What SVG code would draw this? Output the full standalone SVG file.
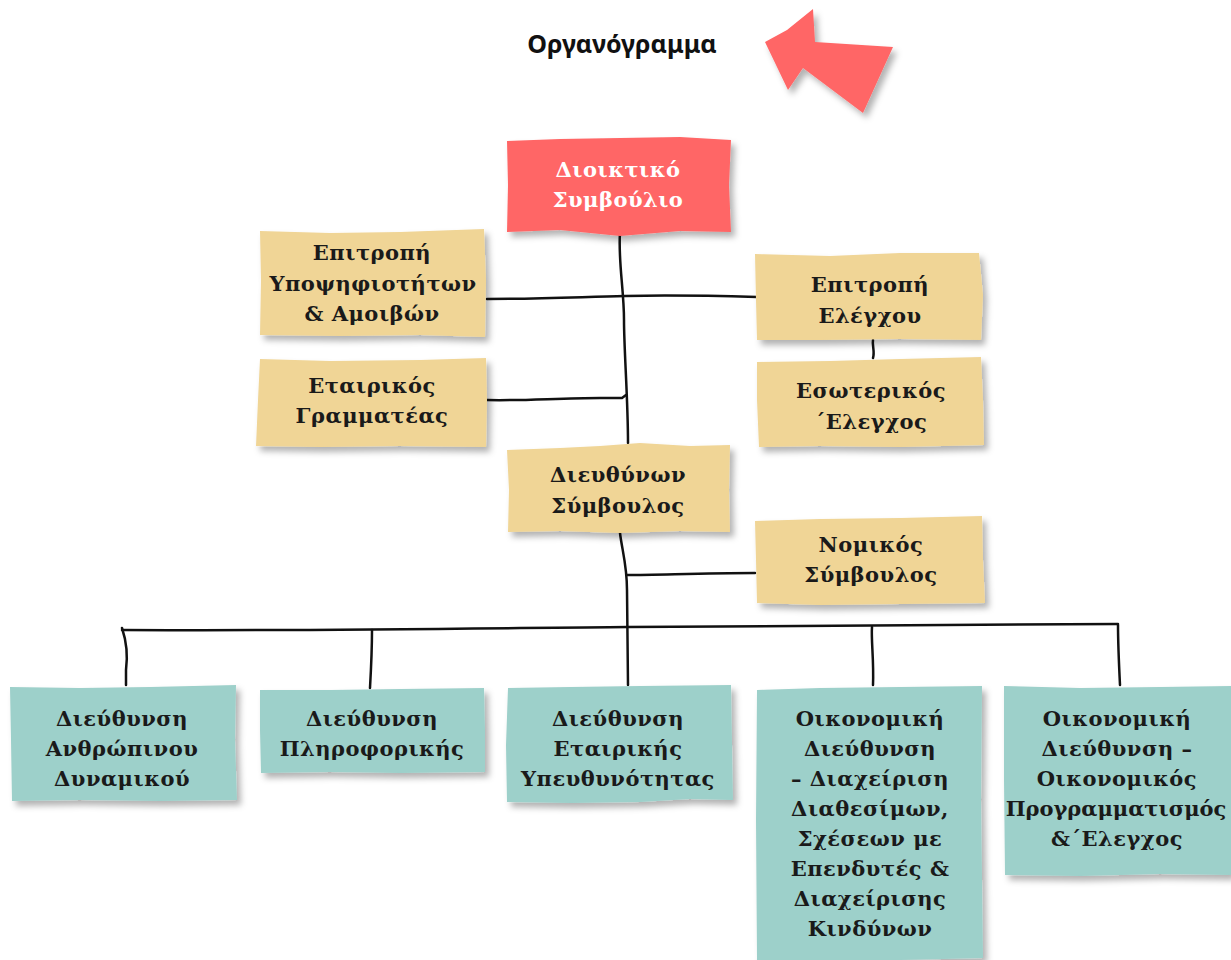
<svg xmlns="http://www.w3.org/2000/svg" width="1231" height="960" viewBox="0 0 1231 960">
  <defs>
    <filter id="shadow" x="-10%" y="-10%" width="125%" height="130%">
      <feDropShadow dx="4" dy="5" stdDeviation="3" flood-color="#000" flood-opacity="0.3"/>
    </filter>
  </defs>
  <style>
    .red { fill: #FF6666; filter: url(#shadow); }
    .yellow { fill: #F0D596; filter: url(#shadow); }
    .teal { fill: #9DD0CA; filter: url(#shadow); }
    .label { font-family: "DejaVu Serif", "Liberation Serif", serif; font-weight: bold; font-size: 21px; letter-spacing: 0.5px; fill: #1a1a1a; text-anchor: middle; }
    .label.light { fill: #ffffff; }
    .label.tight { letter-spacing: 0; }
    .title { font-family: "Noto Sans", "DejaVu Sans", sans-serif; font-weight: bold; font-size: 25px; fill: #111; text-anchor: middle; }
    .wire { fill: none; stroke: #111; stroke-width: 2.5; stroke-linecap: round; stroke-linejoin: round; }
  </style>

  <rect width="1231" height="960" fill="#ffffff"/>

  <!-- heading and pointer -->
  <g id="title">
    <text class="title" x="622" y="53">Οργανόγραμμα</text>
  </g>
  <g id="pointer">
    <polygon class="red" points="765,42 787,30 813,9 815,42 893,47 863,113 803,68 788,90"/>
  </g>

  <!-- connectors -->
  <g id="connectors">
    <path class="wire" d="M620,233 C618,260 624,290 624,320 S628,400 628,443"/>
    <path class="wire" d="M487,299 C540,299 580,297 625,296 S720,296 757,297"/>
    <path class="wire" d="M487,400 C520,401 560,398 600,398 L622,398 L626,395"/>
    <path class="wire" d="M873,340 C872,345 875,352 873,358"/>
    <path class="wire" d="M620,533 C622,550 627,565 627,590 L628,685"/>
    <path class="wire" d="M627,575 C660,575 700,573 755,573"/>
    <path class="wire" d="M122,630 C300,631 500,628 628,627 S900,625 1118,624"/>
    <path class="wire" d="M122,628 C126,640 128,655 126,670 L126,685"/>
    <path class="wire" d="M372,630 C372,650 371,670 370,688"/>
    <path class="wire" d="M872,627 C871,640 874,660 873,685"/>
    <path class="wire" d="M1118,625 C1118,645 1119,665 1120,685"/>
  </g>

  <!-- board -->
  <g id="board">
    <path class="red" d="M507,141 L560,139 L620,138 L680,137 L731,140 L729,185 L731,232 L680,231 L620,236 L560,230 L507,232 L508,185 Z"/>
    <text class="label light" x="618" y="177">Διοικτικό</text>
    <text class="label light" x="618" y="207">Συμβούλιο</text>
  </g>

  <g id="nomination-committee">
    <path class="yellow" d="M260,231 L330,233 L400,232 L484,229 L486,280 L485,337 L420,335 L340,336 L260,335 L261,280 Z"/>
    <text class="label" x="372" y="260">Επιτροπή</text>
    <text class="label" x="373" y="291">Υποψηφιοτήτων</text>
    <text class="label" x="372" y="321">&amp; Αμοιβών</text>
  </g>

  <g id="company-secretary">
    <path class="yellow" d="M260,359 L330,361 L420,360 L486,358 L487,400 L486,447 L400,446 L320,447 L256,446 L258,400 Z"/>
    <text class="label" x="372" y="393">Εταιρικός</text>
    <text class="label" x="372" y="423">Γραμματέας</text>
  </g>

  <g id="audit-committee">
    <path class="yellow" d="M755,254 L830,256 L900,253 L979,253 L983,295 L981,340 L900,339 L820,340 L757,340 L756,300 Z"/>
    <text class="label" x="870" y="292">Επιτροπή</text>
    <text class="label" x="870" y="323">Ελέγχου</text>
  </g>

  <g id="internal-audit">
    <path class="yellow" d="M757,362 L830,361 L900,359 L981,357 L983,400 L984,445 L900,447 L820,446 L759,447 L757,400 Z"/>
    <text class="label" x="871" y="398">Εσωτερικός</text>
    <text class="label" x="871" y="429">΄Ελεγχος</text>
  </g>

  <g id="ceo">
    <path class="yellow" d="M507,450 L560,448 L600,446 L640,443 L690,446 L730,445 L729,490 L730,532 L680,531 L620,533 L560,531 L508,532 L509,490 Z"/>
    <text class="label" x="618" y="482">Διευθύνων</text>
    <text class="label" x="618" y="513">Σύμβουλος</text>
  </g>

  <g id="legal-counsel">
    <path class="yellow" d="M755,521 L820,519 L900,518 L982,516 L983,560 L985,603 L900,604 L820,605 L757,603 L756,560 Z"/>
    <text class="label" x="871" y="552">Νομικός</text>
    <text class="label" x="871" y="582">Σύμβουλος</text>
  </g>

  <g id="hr">
    <path class="teal" d="M10,687 L80,688 L150,687 L236,685 L235,740 L237,800 L160,801 L80,800 L12,801 L11,740 Z"/>
    <text class="label" x="122" y="726">Διεύθυνση</text>
    <text class="label" x="122" y="756">Ανθρώπινου</text>
    <text class="label" x="122" y="786">Δυναμικού</text>
  </g>

  <g id="it">
    <path class="teal" d="M260,690 L330,690 L400,689 L484,688 L485,730 L485,772 L400,773 L330,772 L261,773 L260,730 Z"/>
    <text class="label" x="372" y="726">Διεύθυνση</text>
    <text class="label" x="372" y="756">Πληροφορικής</text>
  </g>

  <g id="csr">
    <path class="teal" d="M508,688 L570,687 L640,686 L731,685 L732,745 L733,800 L690,799 L640,802 L570,803 L507,802 L506,745 Z"/>
    <text class="label" x="618" y="726">Διεύθυνση</text>
    <text class="label" x="618" y="756">Εταιρικής</text>
    <text class="label" x="618" y="786">Υπευθυνότητας</text>
  </g>

  <g id="treasury">
    <path class="teal" d="M757,690 L820,688 L900,687 L982,686 L981,800 L983,958 L900,960 L757,960 L756,820 Z"/>
    <text class="label" x="870" y="726">Οικονομική</text>
    <text class="label" x="870" y="756">Διεύθυνση</text>
    <text class="label" x="870" y="786">– Διαχείριση</text>
    <text class="label" x="870" y="816">Διαθεσίμων,</text>
    <text class="label" x="870" y="846">Σχέσεων με</text>
    <text class="label" x="870" y="876">Επενδυτές &amp;</text>
    <text class="label" x="870" y="906">Διαχείρισης</text>
    <text class="label" x="870" y="936">Κινδύνων</text>
  </g>

  <g id="planning">
    <path class="teal" d="M1004,686 L1080,688 L1160,687 L1231,686 L1231,875 L1160,874 L1080,876 L1005,875 L1004,780 Z"/>
    <text class="label" x="1117" y="726">Οικονομική</text>
    <text class="label" x="1117" y="756">Διεύθυνση –</text>
    <text class="label" x="1117" y="786">Οικονομικός</text>
    <text class="label tight" x="1116" y="816">Προγραμματισμός</text>
    <text class="label" x="1117" y="846">&amp;΄Ελεγχος</text>
  </g>
</svg>
